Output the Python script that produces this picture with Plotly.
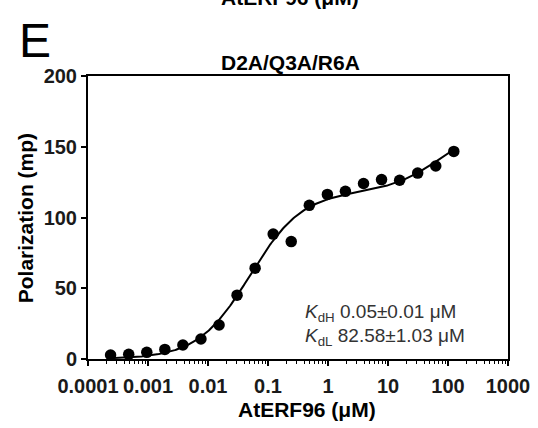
import numpy as np
import plotly.graph_objects as go

# Data
conc_uM = [0.000238, 0.000477, 0.000954, 0.00191, 0.00381, 0.00763, 0.0153,
           0.0305, 0.061, 0.122, 0.244, 0.488, 0.977, 1.95, 3.91, 7.81,
           15.63, 31.25, 62.5, 125.0]
polarization = [2.8, 3.3, 4.7, 6.8, 9.9, 14.1, 24.0, 45.1, 64.2, 88.3, 83.0,
                108.6, 116.3, 118.5, 124.0, 126.8, 126.3, 131.4, 136.4, 146.7]

tick_vals = [1e-4, 1e-3, 1e-2, 1e-1, 1, 10, 100, 1000]
tick_text = ["0.0001", "0.001", "0.01", "0.1", "1", "10", "100", "1000"]
y_ticks = [0, 50, 100, 150, 200]

# Two-site fit parameters (Kd values from the annotation; amplitudes estimated)
KdH, KdL = 0.05, 82.58
A1, A2 = 118.0, 50.0

xfit = np.logspace(np.log10(conc_uM[0]), np.log10(conc_uM[-1]), 300)
yfit = A1 * xfit / (KdH + xfit) + A2 * xfit / (KdL + xfit)

minor_vals = [m * 10.0 ** e for e in range(-4, 3) for m in range(2, 10)]

FONT = "Liberation Sans, Arial, sans-serif"

fig = go.Figure()
fig.add_trace(go.Scatter(x=xfit, y=yfit, mode="lines",
                         line=dict(color="black", width=2), hoverinfo="skip"))
fig.add_trace(go.Scatter(x=conc_uM, y=polarization, mode="markers",
                         marker=dict(color="black", size=11.5)))

W, H = 538, 428
L, R, T, B = 88, 508, 75.5, 359
pw, ph = R - L, B - T

def px(x):
    return (x - L) / pw

def py(y):
    return (B - y) / ph

tickfont = dict(family=FONT, size=20, color="#1a1a1a", weight="bold")

fig.update_layout(
    template="none",
    width=W, height=H,
    margin=dict(l=L, r=W - R, t=T, b=H - B, pad=0),
    paper_bgcolor="white", plot_bgcolor="white",
    showlegend=False,
    font=dict(family=FONT, color="black"),
    xaxis=dict(type="log", range=[-4, 3], tickmode="array",
               tickvals=tick_vals, ticktext=tick_text, automargin=False,
               showline=True, linecolor="black", linewidth=2, mirror=True,
               ticks="outside", ticklen=5, tickwidth=2, tickcolor="black",
               showgrid=False, zeroline=False, tickfont=tickfont,
               ticklabelstandoff=3,
               minor=dict(tickmode="array", tickvals=minor_vals,
                          ticks="outside", ticklen=3, tickwidth=1,
                          tickcolor="black", showgrid=False)),
    yaxis=dict(range=[0, 200], tickmode="array", tickvals=y_ticks,
               automargin=False,
               showline=True, linecolor="black", linewidth=2, mirror=True,
               ticks="outside", ticklen=5, tickwidth=2, tickcolor="black",
               showgrid=False, zeroline=False, tickfont=tickfont),
)

ann = [
    dict(text="<b>AtERF96 (μM)</b>", x=px(307), y=py(410), font=dict(size=21)),
    dict(text="<b>Polarization (mp)</b>", x=px(25), y=py(218), textangle=-90,
         font=dict(size=21)),
    dict(text="<b>D2A/Q3A/R6A</b>", x=px(290), y=py(62), font=dict(size=21)),
    dict(text="E", x=px(17), y=py(40), xanchor="left", font=dict(size=48)),
    dict(text="<b>AtERF96 (μM)</b>", x=px(290), y=py(-3), font=dict(size=21)),
    dict(text="<i>K</i><sub>dH</sub> 0.05±0.01 μM", x=px(303), y=py(313),
         xanchor="left", font=dict(size=19, color="#333")),
    dict(text="<i>K</i><sub>dL</sub> 82.58±1.03 μM", x=px(303), y=py(337),
         xanchor="left", font=dict(size=19, color="#333")),
]
for a in ann:
    a.setdefault("xanchor", "center")
    a.update(xref="paper", yref="paper", yanchor="middle", showarrow=False)
    a["font"] = dict(family=FONT, **({"color": "black"} | a["font"]))
    fig.add_annotation(**a)

fig.write_html("out.html")
